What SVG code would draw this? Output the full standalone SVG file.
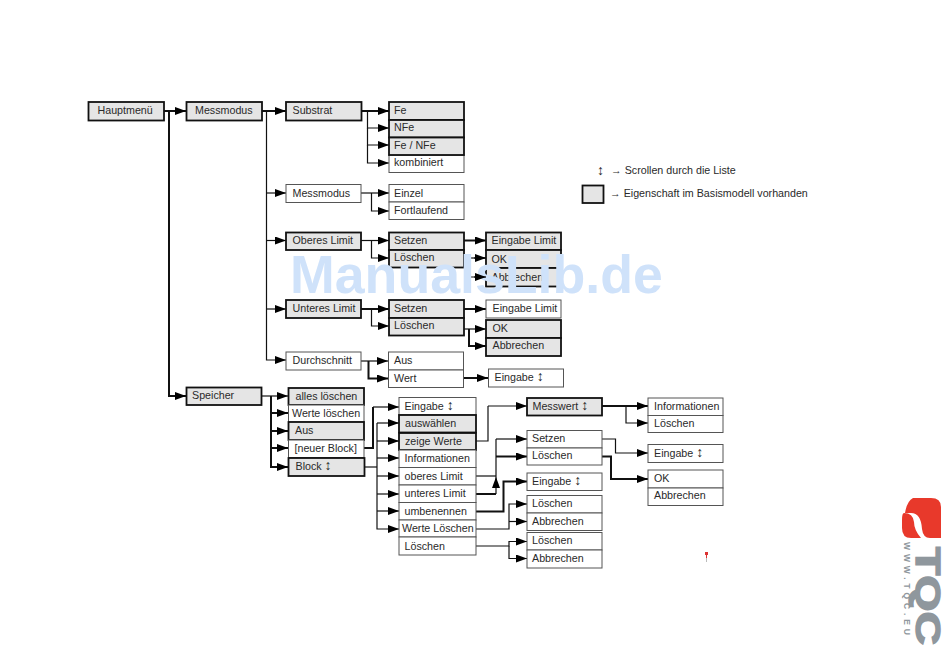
<svg xmlns="http://www.w3.org/2000/svg" width="950" height="654" viewBox="0 0 950 654">
<style>
text{font-family:"Liberation Sans",Arial,sans-serif;font-size:10.700px;fill:#2a2a2a}
.u{font-size:14px}
.g{fill:#e5e5e5;stroke:#111;stroke-width:1.800}
.w{fill:#fff;stroke:#555;stroke-width:1}
.c path{fill:none;stroke:#111;stroke-width:1.200;marker-end:url(#a)}
.c path.n{marker-end:none}
.c path.t{stroke-width:2}
.wm{font-size:53.700px;font-weight:bold;fill:#cfe2fa}
</style>
<defs><marker id="a" markerUnits="userSpaceOnUse" markerWidth="12" markerHeight="8" refX="11" refY="4" orient="auto"><path d="M0 0L11 4L0 8Z" fill="#000"/></marker></defs>
<rect width="950" height="654" fill="#fff"/>
<g id="connectors" class="c">
<path class="t" d="M164 111H186"/><path class="t" d="M169 111V396H186"/>
<path class="t" d="M262 111H286"/><path d="M266.500 111V360H286"/><path d="M266.500 193H286"/><path d="M266.500 240.500H286"/><path d="M266.500 309H286"/>
<path class="t" d="M362 111H389"/><path d="M367.500 111V128H389"/><path d="M367.500 128V145H389"/><path d="M367.500 145V163H389"/>
<path d="M361 193H389"/><path d="M371.500 193V211H389"/>
<path d="M361 240.500H389"/><path d="M371.500 240.500V258H389"/>
<path class="t" d="M361 309H389"/><path d="M371.500 309V326H389"/>
<path d="M361 361H388"/><path class="t" d="M368.500 361V378.500H388"/>
<path class="t" d="M464 240.500H486"/><path class="n" d="M464 258H486"/><path class="n" d="M469 258V277H486"/>
<path class="t" d="M464 309H486"/><path d="M464 329H486"/><path class="t" d="M469 329V346H486"/>
<path class="t" d="M463 378H488"/>
<path d="M261.500 396H288"/><path class="t" d="M271 396V413H288"/><path class="t" d="M271 413V431H288"/><path class="t" d="M271 431V448H288"/><path class="t" d="M271 448V467H288"/>
<path class="t n" d="M364 448H373V407"/><path d="M373 407H399"/>
<path class="n" d="M365 467H377"/><path d="M377 423H399"/><path d="M377 423V529H399"/><path d="M377 441H399"/><path d="M377 458H399"/><path d="M377 476H399"/><path d="M377 494H399"/><path d="M377 511H399"/>
<path class="n" d="M476 441H488V406"/><path d="M488 406H527"/>
<path class="t" d="M602 406H648"/><path d="M626 406V423H648"/>
<path class="n" d="M476 476H496"/><path class="t n" d="M476 494H496"/><path d="M496 494V477"/><path class="n" d="M496 477V439"/><path d="M496 439H527"/><path class="t" d="M496 456.500H527"/>
<path class="t" d="M476 511.500H503.500V481.500H527"/>
<path d="M476 529H509V504H527"/><path d="M509 521.500H527"/>
<path d="M476 546H509V541.500H527"/><path d="M509 546V558.500H527"/>
<path d="M602 439H615.500V453H648"/><path class="t" d="M602 456.500H611V479H648"/>
</g>
<g id="hauptmenu"><rect class="g" x="88.500" y="102" width="75.500" height="18.500"/><text x="97.500" y="114">Hauptmenü</text></g>
<g id="messmodus"><rect class="g" x="186.500" y="102" width="75.500" height="18.500"/><text x="195" y="114">Messmodus</text></g>
<g id="substrat"><rect class="g" x="286" y="102" width="75.500" height="18.500"/><text x="292.500" y="114">Substrat</text></g>
<g id="kombiniert"><rect class="w" x="389" y="155" width="75" height="17.500"/><text x="394" y="166">kombiniert</text></g>
<g id="fe"><rect class="g" x="389" y="102" width="75" height="18"/><text x="394" y="114">Fe</text></g>
<g id="nfe"><rect class="g" x="389" y="120" width="75" height="17.500"/><text x="394" y="131">NFe</text></g>
<g id="fe-nfe"><rect class="g" x="389" y="137.500" width="75" height="17.500"/><text x="394" y="149">Fe / NFe</text></g>
<g id="messmodus2"><rect class="w" x="286" y="184.500" width="75" height="18"/><text x="292.500" y="197">Messmodus</text></g>
<g id="einzel"><rect class="w" x="389" y="184.500" width="75" height="17.500"/><text x="394" y="197">Einzel</text></g>
<g id="fortlaufend"><rect class="w" x="389" y="202" width="75" height="17.500"/><text x="394" y="214">Fortlaufend</text></g>
<g id="oberes"><rect class="g" x="286" y="232.500" width="75" height="17.500"/><text x="292.500" y="244">Oberes Limit</text></g>
<g id="setzen1"><rect class="g" x="389" y="232.500" width="75" height="17.500"/><text x="394" y="244">Setzen</text></g>
<g id="loeschen1"><rect class="g" x="389" y="250" width="75" height="17.500"/><text x="394" y="261">Löschen</text></g>
<g id="eingabe1"><rect class="g" x="486" y="232.500" width="75" height="17.500"/><text x="491.500" y="244">Eingabe Limit</text></g>
<g id="ok1"><rect class="g" x="486" y="250" width="75" height="18"/><text x="491.500" y="263">OK</text></g>
<g id="abbrechen1"><rect class="g" x="486" y="268" width="75" height="18.500"/><text x="491.500" y="281">Abbrechen</text></g>
<g id="unteres"><rect class="g" x="286" y="300" width="75" height="18"/><text x="292.500" y="312">Unteres Limit</text></g>
<g id="setzen2"><rect class="g" x="389" y="300" width="75" height="18"/><text x="394" y="312">Setzen</text></g>
<g id="loeschen2"><rect class="g" x="389" y="318" width="75" height="17.500"/><text x="394" y="329">Löschen</text></g>
<g id="eingabe2"><rect class="w" x="486" y="300" width="75" height="18"/><text x="492.500" y="312">Eingabe Limit</text></g>
<g id="ok2"><rect class="g" x="486" y="320" width="75" height="18"/><text x="492.500" y="332">OK</text></g>
<g id="abbrechen2"><rect class="g" x="486" y="338" width="75" height="18"/><text x="492.500" y="349">Abbrechen</text></g>
<g id="durchschnitt"><rect class="w" x="286" y="352" width="75" height="18"/><text x="292.500" y="364">Durchschnitt</text></g>
<g id="aus"><rect class="w" x="388.500" y="352" width="75" height="18"/><text x="394" y="364">Aus</text></g>
<g id="wert"><rect class="w" x="388.500" y="370" width="75" height="17.500"/><text x="394" y="382">Wert</text></g>
<g id="eingabe3"><rect class="w" x="488.500" y="369" width="75" height="18"/><text x="494.500" y="381">Eingabe <tspan class="u">↕</tspan></text></g>
<g id="speicher"><rect class="g" x="186.500" y="387.500" width="75" height="17.500"/><text x="192" y="399">Speicher</text></g>
<g id="alles"><rect class="g" x="288.500" y="388" width="75.500" height="17"/><text x="295.500" y="400">alles löschen</text></g>
<g id="wertel"><rect class="w" x="288.500" y="405" width="75.500" height="17"/><text x="292" y="417">Werte löschen</text></g>
<g id="aus2"><rect class="g" x="288.500" y="422" width="75.500" height="18"/><text x="295" y="434">Aus</text></g>
<g id="neuer"><rect class="w" x="288.500" y="440" width="75.500" height="17.500"/><text x="294.500" y="452">[neuer Block]</text></g>
<g id="block"><rect class="g" x="288.500" y="458" width="76" height="18"/><text x="295.500" y="470">Block <tspan class="u">↕</tspan></text></g>
<g id="l-eingabe"><rect class="w" x="399" y="397.500" width="77" height="17.500"/><text x="404.500" y="410">Eingabe <tspan class="u">↕</tspan></text></g>
<g id="l-auswaehlen"><rect class="g" x="399" y="415" width="77" height="17.500"/><text x="405" y="427">auswählen</text></g>
<g id="l-zeige"><rect class="g" x="399" y="433" width="77" height="17"/><text x="405" y="445">zeige Werte</text></g>
<g id="l-info"><rect class="w" x="399" y="450" width="77" height="17.500"/><text x="404.500" y="462">Informationen</text></g>
<g id="l-oberes"><rect class="w" x="399" y="467.500" width="77" height="17.500"/><text x="404.500" y="480">oberes Limit</text></g>
<g id="l-unteres"><rect class="w" x="399" y="485" width="77" height="17.500"/><text x="404.500" y="497">unteres Limit</text></g>
<g id="l-umbenennen"><rect class="w" x="399" y="502.500" width="77" height="17.500"/><text x="404.500" y="515">umbenennen</text></g>
<g id="l-wertel"><rect class="w" x="399" y="520" width="77" height="17"/><text x="402" y="532">Werte Löschen</text></g>
<g id="l-loeschen"><rect class="w" x="399" y="537" width="77" height="18"/><text x="404.500" y="550">Löschen</text></g>
<g id="messwert"><rect class="g" x="527" y="398" width="75" height="17.500"/><text x="532.500" y="410">Messwert <tspan class="u">↕</tspan></text></g>
<g id="r-info"><rect class="w" x="648" y="398" width="75" height="17.500"/><text x="654" y="410">Informationen</text></g>
<g id="r-loeschen"><rect class="w" x="648" y="415.500" width="75" height="17"/><text x="654" y="427">Löschen</text></g>
<g id="m-setzen"><rect class="w" x="527" y="430.500" width="75" height="17.500"/><text x="532" y="442">Setzen</text></g>
<g id="m-loeschen"><rect class="w" x="527" y="448" width="75" height="17"/><text x="532" y="459">Löschen</text></g>
<g id="m-eingabe"><rect class="w" x="527" y="473" width="75" height="17.500"/><text x="532" y="485">Eingabe <tspan class="u">↕</tspan></text></g>
<g id="m-l1"><rect class="w" x="527" y="495.500" width="75" height="17.500"/><text x="532" y="507">Löschen</text></g>
<g id="m-a1"><rect class="w" x="527" y="513" width="75" height="17.500"/><text x="532" y="525">Abbrechen</text></g>
<g id="m-l2"><rect class="w" x="527" y="532.500" width="75" height="17.500"/><text x="532" y="544">Löschen</text></g>
<g id="m-a2"><rect class="w" x="527" y="550" width="75" height="18"/><text x="532" y="562">Abbrechen</text></g>
<g id="r-eingabe"><rect class="w" x="648" y="444.500" width="75" height="18"/><text x="654" y="457">Eingabe <tspan class="u">↕</tspan></text></g>
<g id="r-ok"><rect class="w" x="648" y="470" width="75" height="18"/><text x="654" y="482">OK</text></g>
<g id="r-abbrechen"><rect class="w" x="648" y="488" width="75" height="17.500"/><text x="654" y="499">Abbrechen</text></g>
<g id="legend"><text x="597" y="175" class="u">↕</text><text x="611" y="174">→ Scrollen durch die Liste</text><rect class="g" x="582.500" y="185.500" width="21" height="17.500"/><text x="610" y="197">→ Eigenschaft im Basismodell vorhanden</text></g>
<text class="wm" x="290" y="293">ManualsLib.de</text>
<g id="connectors-over-watermark" class="c"><path d="M474 258H486"/><path d="M474 277H486"/></g>
<path d="M705 552h3v3h-1v3h-1v-3h-1z" fill="#d33"/><path d="M706 558h1v4h-1z" fill="#bbb"/>
<g id="logo">
<path d="M913 498H931Q941 498 941 507V538H930Q923 538 922 529Q921 513 911 513H905Q907 501 913 498Z" fill="#e8392b"/>
<path d="M904 513Q902 513 902 520V528Q902 538 911 538H921Q914 530 914 522Q913 513 904 513Z" fill="#e8392b"/>
<text transform="translate(916 547) rotate(90)" textLength="98" lengthAdjust="spacingAndGlyphs" style="font-size:35px;font-weight:bold;fill:#8f979d;stroke:#8f979d;stroke-width:1.500">TQC</text>
<text transform="translate(904 542) rotate(90)" textLength="93" style="font-size:8.500px;font-weight:bold;fill:#8f979d">WWW.TQC.EU</text>
</g>
</svg>
